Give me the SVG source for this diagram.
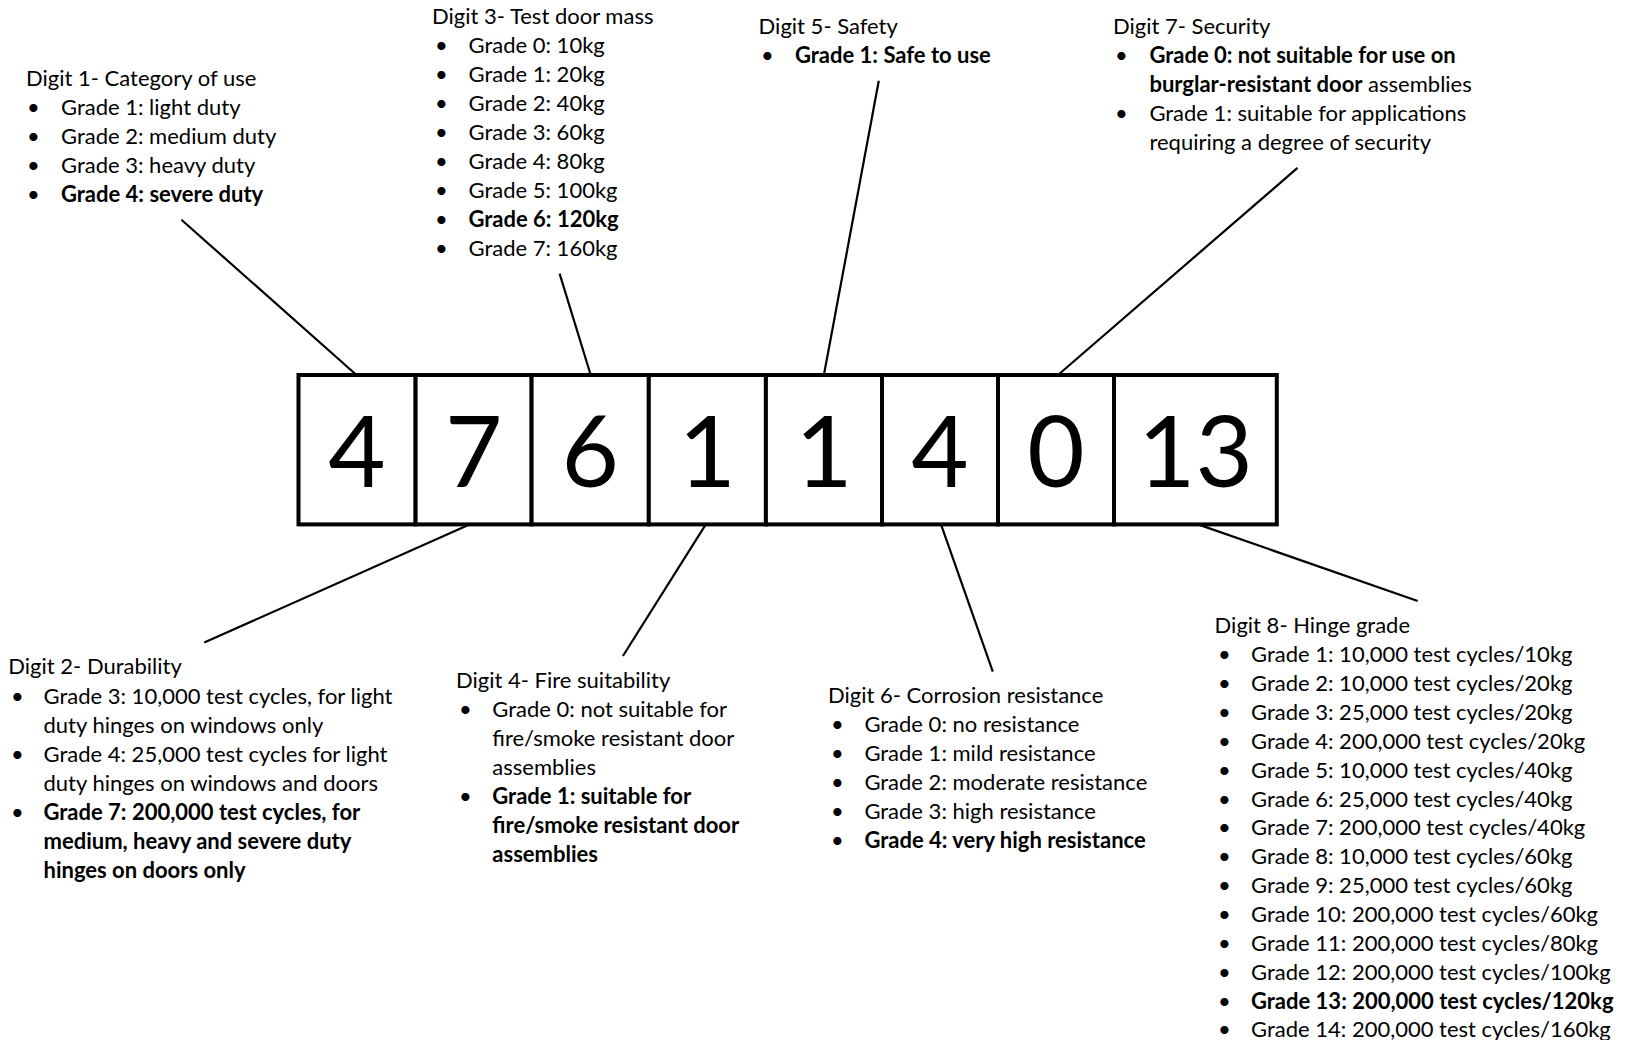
<svg xmlns="http://www.w3.org/2000/svg" width="1625" height="1040" viewBox="0 0 1625 1040">
<style>
text{font-family:"Lato","Liberation Sans",sans-serif;fill:#000}
.t{font-size:22px}
.b{font-weight:bold}
.d{font-size:99px;text-anchor:middle}
.cell{fill:#fff;stroke:#000;stroke-width:4}
.c{stroke:#000;stroke-width:2.2;fill:none}
</style>
<rect width="1625" height="1040" fill="#fff"/>
<g id="connectors">
<line class="c" x1="181.4" y1="219.7" x2="356.5" y2="375"/>
<line class="c" x1="559.6" y1="273.6" x2="590.7" y2="375"/>
<line class="c" x1="878.8" y1="80.8" x2="823.9" y2="375"/>
<line class="c" x1="1297.5" y1="167.9" x2="1058" y2="375"/>
<line class="c" x1="469.5" y1="524.4" x2="204.2" y2="642.5"/>
<line class="c" x1="705.8" y1="524.4" x2="622.9" y2="656"/>
<line class="c" x1="941" y1="524.4" x2="992.8" y2="671.6"/>
<line class="c" x1="1198" y1="524.4" x2="1417.7" y2="601"/>
</g>
<g id="code">
<g id="cell1"><rect class="cell" x="298.5" y="375" width="117.1" height="149.4"/><text class="d" x="357" y="487">4</text></g>
<g id="cell2"><rect class="cell" x="415.6" y="375" width="116" height="149.4"/><text class="d" x="473.6" y="487">7</text></g>
<g id="cell3"><rect class="cell" x="531.6" y="375" width="117.2" height="149.4"/><text class="d" x="590.2" y="487">6</text></g>
<g id="cell4"><rect class="cell" x="648.8" y="375" width="117.1" height="149.4"/><text class="d" x="707.3" y="487">1</text></g>
<g id="cell5"><rect class="cell" x="765.9" y="375" width="116.1" height="149.4"/><text class="d" x="824" y="487">1</text></g>
<g id="cell6"><rect class="cell" x="882" y="375" width="116" height="149.4"/><text class="d" x="940" y="487">4</text></g>
<g id="cell7"><rect class="cell" x="998" y="375" width="116" height="149.4"/><text class="d" x="1056" y="487">0</text></g>
<g id="cell8"><rect class="cell" x="1114" y="375" width="162.8" height="149.4"/><text class="d" x="1195.4" y="487">13</text></g>
</g>
<g id="digit1" class="t">
<text x="26" y="86">Digit 1- Category of use</text>
<text x="27" y="115">•</text><text x="61" y="115">Grade 1: light duty</text>
<text x="27" y="144">•</text><text x="61" y="144">Grade 2: medium duty</text>
<text x="27" y="173">•</text><text x="61" y="173">Grade 3: heavy duty</text>
<text x="27" y="202">•</text><text class="b" x="61" y="202">Grade 4: severe duty</text>
</g>
<g id="digit3" class="t">
<text x="432" y="24">Digit 3- Test door mass</text>
<text x="435" y="53">•</text><text x="468.5" y="53">Grade 0: 10kg</text>
<text x="435" y="82">•</text><text x="468.5" y="82">Grade 1: 20kg</text>
<text x="435" y="111">•</text><text x="468.5" y="111">Grade 2: 40kg</text>
<text x="435" y="140">•</text><text x="468.5" y="140">Grade 3: 60kg</text>
<text x="435" y="169">•</text><text x="468.5" y="169">Grade 4: 80kg</text>
<text x="435" y="198">•</text><text x="468.5" y="198">Grade 5: 100kg</text>
<text x="435" y="227">•</text><text class="b" x="468.5" y="227">Grade 6: 120kg</text>
<text x="435" y="256">•</text><text x="468.5" y="256">Grade 7: 160kg</text>
</g>
<g id="digit5" class="t">
<text x="758.6" y="34.2">Digit 5- Safety</text>
<text x="761" y="63.2">•</text><text class="b" x="795" y="63.2">Grade 1: Safe to use</text>
</g>
<g id="digit7" class="t">
<text x="1113" y="34.2">Digit 7- Security</text>
<text x="1115" y="63.2">•</text><text class="b" x="1149.4" y="63.2">Grade 0: not suitable for use on</text>
<text x="1149.4" y="92.2"><tspan class="b">burglar-resistant door</tspan> assemblies</text>
<text x="1115" y="121.2">•</text><text x="1149.4" y="121.2">Grade 1: suitable for applications</text>
<text x="1149.4" y="150.2">requiring a degree of security</text>
</g>
<g id="digit2" class="t">
<text x="8.3" y="673.7">Digit 2- Durability</text>
<text x="11" y="703.7">•</text><text x="43.5" y="703.7">Grade 3: 10,000 test cycles, for light</text>
<text x="43.5" y="732.7">duty hinges on windows only</text>
<text x="11" y="761.7">•</text><text x="43.5" y="761.7">Grade 4: 25,000 test cycles for light</text>
<text x="43.5" y="790.8">duty hinges on windows and doors</text>
<text x="11" y="819.8">•</text><text class="b" x="43.5" y="819.8">Grade 7: 200,000 test cycles, for</text>
<text class="b" x="43.5" y="848.8">medium, heavy and severe duty</text>
<text class="b" x="43.5" y="877.8">hinges on doors only</text>
</g>
<g id="digit4" class="t">
<text x="456" y="688.2">Digit 4- Fire suitability</text>
<text x="459" y="717.2">•</text><text x="492.3" y="717.2">Grade 0: not suitable for</text>
<text x="492.3" y="746.2">fire/smoke resistant door</text>
<text x="492.3" y="775.2">assemblies</text>
<text x="459" y="804.2">•</text><text class="b" x="492.3" y="804.2">Grade 1: suitable for</text>
<text class="b" x="492.3" y="833.3">fire/smoke resistant door</text>
<text class="b" x="492.3" y="862.3">assemblies</text>
</g>
<g id="digit6" class="t">
<text x="828" y="702.7">Digit 6- Corrosion resistance</text>
<text x="831" y="731.7">•</text><text x="864.4" y="731.7">Grade 0: no resistance</text>
<text x="831" y="760.7">•</text><text x="864.4" y="760.7">Grade 1: mild resistance</text>
<text x="831" y="789.7">•</text><text x="864.4" y="789.7">Grade 2: moderate resistance</text>
<text x="831" y="818.8">•</text><text x="864.4" y="818.8">Grade 3: high resistance</text>
<text x="831" y="847.8">•</text><text class="b" x="864.4" y="847.8">Grade 4: very high resistance</text>
</g>
<g id="digit8" class="t">
<text x="1214.6" y="633.2">Digit 8- Hinge grade</text>
<text x="1218" y="662.3">•</text><text x="1251" y="662.3">Grade 1: 10,000 test cycles/10kg</text>
<text x="1218" y="691.2">•</text><text x="1251" y="691.2">Grade 2: 10,000 test cycles/20kg</text>
<text x="1218" y="720">•</text><text x="1251" y="720">Grade 3: 25,000 test cycles/20kg</text>
<text x="1218" y="748.9">•</text><text x="1251" y="748.9">Grade 4: 200,000 test cycles/20kg</text>
<text x="1218" y="777.7">•</text><text x="1251" y="777.7">Grade 5: 10,000 test cycles/40kg</text>
<text x="1218" y="806.6">•</text><text x="1251" y="806.6">Grade 6: 25,000 test cycles/40kg</text>
<text x="1218" y="835.4">•</text><text x="1251" y="835.4">Grade 7: 200,000 test cycles/40kg</text>
<text x="1218" y="864.3">•</text><text x="1251" y="864.3">Grade 8: 10,000 test cycles/60kg</text>
<text x="1218" y="893.1">•</text><text x="1251" y="893.1">Grade 9: 25,000 test cycles/60kg</text>
<text x="1218" y="922">•</text><text x="1251" y="922">Grade 10: 200,000 test cycles/60kg</text>
<text x="1218" y="950.8">•</text><text x="1251" y="950.8">Grade 11: 200,000 test cycles/80kg</text>
<text x="1218" y="979.7">•</text><text x="1251" y="979.7">Grade 12: 200,000 test cycles/100kg</text>
<text x="1218" y="1008.5">•</text><text class="b" x="1251" y="1008.5">Grade 13: 200,000 test cycles/120kg</text>
<text x="1218" y="1037.4">•</text><text x="1251" y="1037.4">Grade 14: 200,000 test cycles/160kg</text>
</g>
</svg>
